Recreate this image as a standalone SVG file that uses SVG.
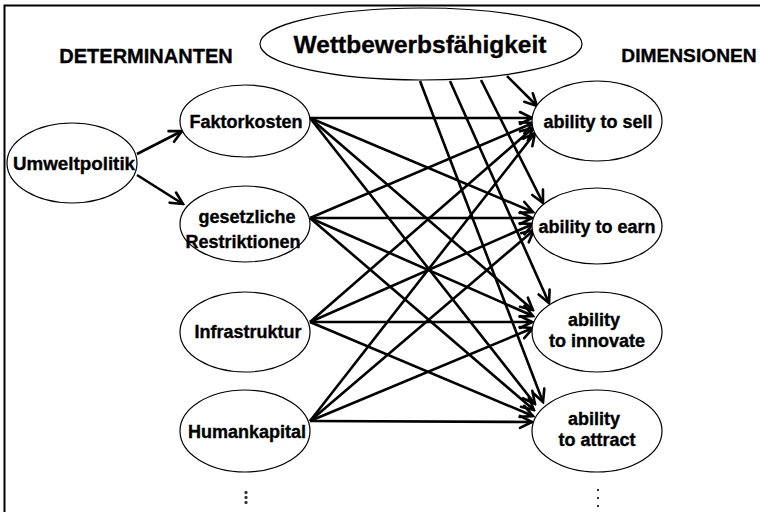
<svg xmlns="http://www.w3.org/2000/svg" width="760" height="512" viewBox="0 0 760 512">
<defs>
<marker id="ah" viewBox="0 0 16 16" refX="14" refY="8" markerWidth="16" markerHeight="16" markerUnits="userSpaceOnUse" orient="auto">
<path d="M2,2 L14,8 L2,14" fill="none" stroke="#000" stroke-width="2.6" stroke-linecap="round" stroke-linejoin="miter"/>
</marker>
<style>
.n ellipse{fill:#fff;stroke:#000;stroke-width:1.2}
text{font-family:"Liberation Sans",Arial,sans-serif;font-weight:bold;fill:#000;stroke:#000;stroke-width:0.35;text-anchor:middle}
.t{font-size:18px}
.h{font-size:20px}
.c line{stroke:#000;stroke-width:2.6;marker-end:url(#ah)}
.d{fill:#333}
</style>
</defs>
<rect x="0" y="0" width="760" height="512" fill="#fff"/>
<rect x="4.5" y="5.5" width="770" height="520" fill="none" stroke="#000" stroke-width="2"/>
<text class="h" x="146" y="63">DETERMINANTEN</text>
<text class="h" x="689" y="62" style="font-size:19.2px">DIMENSIONEN</text>

<g class="c" id="connectors">
<line x1="137" y1="154" x2="182" y2="131"/>
<line x1="137" y1="175" x2="183" y2="204"/>
<!-- Faktorkosten -->
<line x1="310" y1="118" x2="532" y2="118"/>
<line x1="310" y1="118" x2="533" y2="212"/>
<line x1="310" y1="118" x2="533" y2="310"/>
<line x1="310" y1="118" x2="535" y2="404"/>
<!-- gesetzliche -->
<line x1="310" y1="218" x2="533" y2="123"/>
<line x1="310" y1="218" x2="532" y2="218"/>
<line x1="310" y1="218" x2="533" y2="316"/>
<line x1="310" y1="218" x2="534" y2="410"/>
<!-- Infrastruktur -->
<line x1="310" y1="322" x2="533" y2="128"/>
<line x1="310" y1="322" x2="533" y2="224"/>
<line x1="310" y1="322" x2="532" y2="322"/>
<line x1="310" y1="322" x2="533" y2="416"/>
<!-- Humankapital -->
<line x1="310" y1="421" x2="535" y2="133"/>
<line x1="310" y1="421" x2="534" y2="230"/>
<line x1="310" y1="421" x2="533" y2="328"/>
<line x1="310" y1="421" x2="532" y2="422"/>
<!-- Wettbewerbsfähigkeit -->
<line x1="507" y1="76" x2="537" y2="106"/>
<line x1="481" y1="80" x2="543" y2="203"/>
<line x1="450" y1="81" x2="549" y2="303"/>
<line x1="420" y1="81" x2="543" y2="402"/>
</g>

<g class="n" id="wettbewerb">
<ellipse cx="421" cy="44" rx="161" ry="36"/>
<text x="420" y="53" style="font-size:24.5px">Wettbewerbsfähigkeit</text>
</g>
<g class="n" id="umweltpolitik">
<ellipse cx="72" cy="163" rx="65" ry="40"/>
<text class="t" x="74" y="170" style="font-size:18.8px">Umweltpolitik</text>
</g>
<g class="n" id="faktorkosten">
<ellipse cx="245" cy="121" rx="65" ry="36"/>
<text class="t" x="246" y="128">Faktorkosten</text>
</g>
<g class="n" id="restriktionen">
<ellipse cx="245" cy="224" rx="65" ry="38"/>
<text class="t" x="247" y="223">gesetzliche</text>
<text class="t" x="243" y="248">Restriktionen</text>
</g>
<g class="n" id="infrastruktur">
<ellipse cx="245" cy="332" rx="65" ry="40"/>
<text class="t" x="248" y="338">Infrastruktur</text>
</g>
<g class="n" id="humankapital">
<ellipse cx="245" cy="431" rx="65" ry="41"/>
<text class="t" x="247" y="438">Humankapital</text>
</g>
<g class="n" id="sell">
<ellipse cx="597" cy="121" rx="65" ry="40"/>
<text class="t" x="598" y="128">ability to sell</text>
</g>
<g class="n" id="earn">
<ellipse cx="597" cy="226" rx="65" ry="38"/>
<text class="t" x="597" y="233">ability to earn</text>
</g>
<g class="n" id="innovate">
<ellipse cx="597" cy="332" rx="65" ry="40"/>
<text class="t" x="594" y="326">ability</text>
<text class="t" x="597" y="347">to innovate</text>
</g>
<g class="n" id="attract">
<ellipse cx="597" cy="431" rx="65" ry="41"/>
<text class="t" x="594" y="425">ability</text>
<text class="t" x="597" y="446">to attract</text>
</g>

<g id="dots-left">
<rect class="d" x="244.5" y="491" width="3" height="3" rx="1"/>
<rect class="d" x="244.5" y="496" width="3" height="3" rx="1"/>
<rect class="d" x="244.5" y="501" width="3" height="3" rx="1"/>
</g>
<g id="dots-right">
<rect class="d" x="597" y="489" width="2" height="2"/>
<rect class="d" x="597" y="497" width="2" height="2"/>
<rect class="d" x="597" y="505" width="2" height="2"/>
</g>
</svg>
